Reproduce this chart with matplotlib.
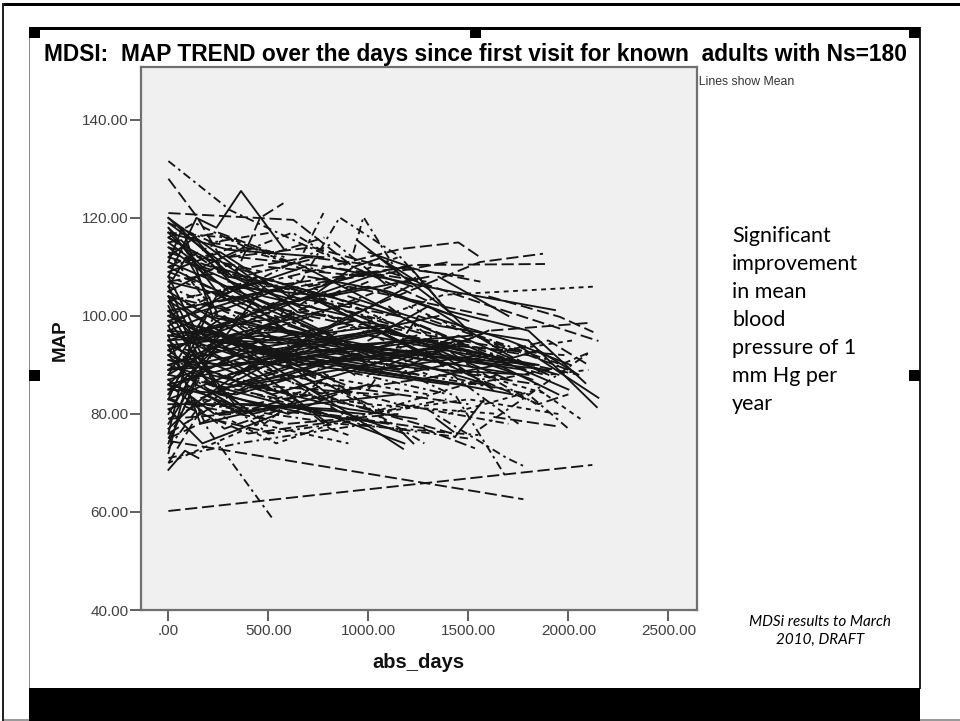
import matplotlib
matplotlib.use('Agg')
import matplotlib.pyplot as plt
from matplotlib.patches import Rectangle

W, H = 960, 721

title = 'MDSI:  MAP TREND over the days since first visit for known  adults with Ns=180'
side_note = 'Significant\nimprovement\nin mean\nblood\npressure of 1\nmm Hg per\nyear'
foot_note = 'MDSi results to March\n2010, DRAFT'

x_ticks = [0, 500, 1000, 1500, 2000, 2500]
x_tick_labels = ['.00', '500.00', '1000.00', '1500.00', '2000.00', '2500.00']
y_ticks = [40, 60, 80, 100, 120, 140]
y_tick_labels = ['40.00', '60.00', '80.00', '100.00', '120.00', '140.00']

# Subject lines, grouped by how they are dashed
solid_days = [
    [0, 83, 150], [0, 430, 875, 1173], [0, 320, 700], [0, 260, 640], [0, 180, 520, 930],
    [0, 300, 775], [0, 500, 1000], [0, 400, 1100], [0, 600, 1300], [0, 450, 1150],
    [0, 700, 1380], [0, 350, 900, 1500], [0, 280, 800], [0, 500, 1100, 1600], [0, 240, 680, 1250],
    [0, 550, 1200], [0, 300, 950], [0, 650, 1420], [0, 200, 760], [0, 330, 720, 1180],
    [0, 160, 580], [0, 420, 1000], [0, 250, 600, 1240], [0, 380, 880], [0, 520, 1060, 1700],
    [0, 300, 810, 1350, 1800], [0, 460, 1020, 1560], [0, 610, 1260, 1850], [0, 150, 500], [0, 210, 480],
    [0, 270, 620], [0, 120, 400], [0, 190, 650], [0, 340, 840], [0, 230, 710, 1150],
    [0, 440, 980], [0, 90, 360], [0, 130, 410, 800], [0, 170, 550], [800, 1375, 1933],
    [1000, 1300, 1700], [1100, 1450, 1900], [900, 1350, 1800], [1200, 1600, 2000], [1300, 1700, 2010],
    [1250, 1650, 1950], [1400, 1800, 2085], [1750, 1900, 2150], [1800, 2142], [1433, 1575],
    [1340, 1425], [1158, 1225], [1050, 1300, 1620], [700, 1150, 1600], [500, 900, 1350],
    [1000, 1208, 1375, 1500], [650, 925, 1058, 1308], [942, 1175, 1400], [0, 140, 240, 363, 575], [1350, 1700],
    [0, 310, 640], [0, 230, 450], [0, 100, 300], [0, 70, 220], [0, 360, 760],
    [0, 280, 590], [0, 400, 700, 1300], [0, 150, 430], [0, 480, 900], [0, 220, 520],
    [0, 300, 680], [0, 600, 1000], [0, 110, 330], [0, 260, 480], [0, 520, 1180],
    [1500, 1780, 1950], [1600, 1850, 2050], [300, 800, 1450], [200, 750, 1300], [400, 1000, 1650],
    [0, 200, 460], [0, 130, 300], [0, 170, 380], [0, 260, 600], [0, 90, 240],
    [0, 350, 720], [0, 240, 540], [0, 410, 820], [0, 320, 660], [0, 560, 1040],
    [0, 210, 610], [0, 470, 980], [0, 140, 360], [0, 380, 930], [0, 620, 1280],
    [0, 290, 700], [0, 500, 1120], [0, 180, 420], [0, 340, 760], [0, 430, 1020],
    [100, 600, 1250], [250, 900, 1520], [150, 700, 1400], [350, 1050, 1700], [450, 1100, 1780],
    [550, 1200, 1850], [650, 1250, 1900], [200, 820, 1480], [300, 950, 1580], [500, 1150, 1620],
    [600, 1050, 1500], [750, 1300, 1760], [850, 1400, 1820], [950, 1450, 1720], [400, 1000, 1450],
    [300, 800, 1300], [500, 1000, 1500], [700, 1100, 1430], [600, 1000, 1220], [400, 900, 1240],
    [250, 700, 1100], [350, 820, 1180], [150, 480, 900], [300, 650, 1000], [200, 600, 840],
]
solid_map = [
    [68.6, 72.5, 71], [104, 92, 80.8, 72.9], [120, 108, 101], [118, 104, 96], [116, 112, 99, 88],
    [117, 113.5, 112], [110, 100, 92], [107, 103, 91], [101, 106, 94], [98, 108, 100],
    [95, 104, 90], [94, 88, 100, 88], [92, 100, 84], [90, 98, 92, 86], [88, 104, 110, 98],
    [86, 92, 106], [84, 96, 103], [100, 90, 94], [102, 86, 80], [99, 82, 81, 74],
    [96, 78, 82], [93, 80, 86], [106, 85, 88, 96], [103, 94, 86], [97, 95, 98, 87],
    [91, 90, 93, 89, 88], [89, 93, 89, 92], [95, 97, 92, 90], [74, 88, 96], [78, 92, 106],
    [80, 98, 104], [76, 96, 100], [83, 100, 96], [85, 84, 90], [87, 80, 82, 84],
    [82, 82, 80], [72, 86, 80], [77, 82, 90, 78], [81, 74, 80], [110, 105.3, 101.2],
    [95, 102, 92], [90, 96, 88], [104, 98, 95], [99, 92, 85], [100, 95, 90],
    [87, 90, 84], [101, 97, 86.3], [94, 90, 83.3], [95, 81.4], [75.3, 82.8],
    [79, 76.4], [76.7, 74], [98, 94, 85], [92, 89, 97], [90, 96, 100],
    [113, 110, 102, 97], [102, 110, 111.8, 105.3], [115.5, 108, 101], [108, 120, 118, 125.5, 113.8], [108, 100],
    [120, 110.8, 101], [119, 112, 106], [115, 112, 105], [111, 118, 100], [100, 92, 88],
    [105, 98, 92], [93, 99, 104, 92], [108, 96, 90], [97, 87, 92], [101, 92, 85],
    [90, 86, 94], [96, 100, 90], [104, 95, 92], [86, 96, 90], [92, 84, 92],
    [93, 90, 88], [90, 93, 88], [95, 94, 90], [84, 92, 89], [91, 96, 91],
    [114, 108, 102], [112, 116, 108], [117, 110, 114], [109, 113, 104], [106, 112, 101],
    [111, 105, 99], [105, 110, 106], [99, 104, 96], [97, 102, 107], [96, 93, 97],
    [95, 88, 84], [94, 96, 91], [92, 86, 81], [90, 94, 99], [89, 91, 95],
    [88, 95, 90], [87, 93, 97], [86, 84, 80], [85, 92, 88], [83, 90, 94],
    [96, 92, 88], [100, 94, 96], [98, 90, 86], [93, 97, 91], [96, 93, 89],
    [92, 95, 90], [90, 92, 89], [94, 90, 86], [88, 94, 91], [93, 88, 92],
    [98, 92, 94], [95, 91, 88], [91, 93, 87], [89, 86, 84], [86, 90, 95],
    [106, 104, 108], [102, 106, 99], [108, 105, 100], [104, 109, 106], [86, 81, 79],
    [84, 80, 78], [82, 81, 76], [110, 104, 100], [107, 103, 108], [85, 80, 84],
]

dash_days = [
    [0, 143, 290], [0, 625, 925, 1300], [330, 458, 575], [600, 1166, 1450, 1558], [900, 1558, 1873],
    [0, 1225, 1883], [1100, 1625, 2150], [1600, 1958, 2125], [0, 2120], [0, 1775],
    [1275, 1533], [1625, 1958], [600, 808, 900], [1000, 1250, 1600, 2000], [0, 300, 800],
    [0, 500, 1200], [0, 700, 1500], [0, 260, 620], [0, 400, 1050], [0, 180, 700],
    [200, 900, 1600], [300, 1000, 1800], [1200, 1700, 2050], [1400, 1900, 2100], [1300, 1608, 2108],
    [0, 340, 900], [0, 560, 1240], [0, 230, 480, 800], [0, 120, 300], [0, 800, 1500],
    [500, 1200, 1850], [700, 1400, 1980], [1500, 1850, 2000], [0, 450, 1100], [0, 650, 1350],
    [0, 250, 580], [0, 360, 760], [0, 150, 470], [0, 520, 1000], [0, 440, 890],
    [100, 600, 1150], [250, 780, 1300], [400, 900, 1420], [0, 320, 690], [0, 210, 530],
    [800, 1300, 1750], [1000, 1450, 1880], [600, 1150, 1500], [0, 280, 640], [0, 400, 930],
    [350, 800, 1290], [500, 1000, 1400], [700, 1180, 1560], [200, 540, 780], [300, 720, 1080],
]
dash_map = [
    [128, 120.2, 110], [121, 119.6, 110, 103], [108, 120, 123], [108, 113.7, 115, 112], [100, 111, 112.7],
    [101, 110.4, 110.6], [109, 101.8, 94.9], [104, 99.8, 96.7], [60.2, 69.6], [74.5, 62.6],
    [77, 73], [79.4, 77.4], [84, 77, 75.7], [85, 100, 95, 89], [116, 108, 104],
    [112, 106, 110], [107, 112, 108], [84, 102, 96], [76, 86, 84], [70, 82, 80],
    [92, 106, 100], [88, 97, 92], [96, 91, 88], [90, 95, 90], [92, 97, 98.6],
    [101, 92, 98], [88, 83, 87], [103, 86, 78, 88], [98, 88, 84], [94, 86, 82],
    [96, 90, 86], [100, 94, 92], [88, 82, 84], [109, 102, 98], [81, 90, 95],
    [115, 117, 112], [113, 108, 112], [118, 112, 109], [104, 99, 107], [100, 108, 103],
    [82, 78, 80], [88, 80, 77], [90, 82, 76], [79, 80, 84], [75, 79, 76],
    [102, 96, 93], [98, 93, 88], [104, 100, 94], [86, 77, 82], [83, 76, 79],
    [112, 110, 107], [110, 108, 111], [106, 110, 107], [115, 113, 116], [112, 114, 110],
]

dashdot_days = [
    [0, 308, 650, 925], [0, 200, 525], [1000, 1440, 1690], [1292, 1692, 1775], [700, 1058, 1358, 1650],
    [1558, 2108], [675, 775], [560, 858], [925, 975, 1160], [860, 1160, 1400],
    [0, 290, 610], [0, 400, 850], [0, 600, 1100], [0, 180, 560], [0, 350, 1000],
    [100, 500, 1000], [250, 800, 1280], [400, 950, 1500], [600, 1150, 1700], [1000, 1550, 1970],
    [1350, 1800, 2000], [1500, 1900, 2108], [0, 750, 1400], [0, 500, 1250], [0, 240, 720],
    [0, 850, 1550], [1100, 1500, 1840], [1200, 1450, 1750], [300, 620, 900], [480, 830, 1100],
    [0, 220, 510], [0, 130, 440], [0, 330, 780], [0, 460, 990], [200, 680, 1180],
    [350, 870, 1390], [0, 270, 690], [0, 540, 1130], [750, 1250, 1690], [900, 1350, 1860],
]
dashdot_map = [
    [131.6, 121.6, 115, 110], [94, 76.7, 58.4], [92, 83.5, 67], [81, 71, 69.4], [88, 80.8, 84.5, 88],
    [77, 92.6], [112.9, 121], [100, 120.2], [112.9, 120.2, 108], [120, 112, 101],
    [117, 116, 111], [114, 109, 99], [104, 94, 78], [73, 83, 78], [71, 74, 78],
    [88, 76, 79], [80, 86, 74], [92, 78, 75], [88, 82, 78], [88, 96, 90],
    [88, 84, 77], [86, 89, 92.6], [99, 90, 84], [106, 97, 108], [75, 94, 100],
    [83, 78, 75.7], [102, 90, 82], [96, 87, 78], [112, 117, 110], [108, 115, 106],
    [119, 115, 117], [116, 119, 113], [110, 114, 109], [103, 107, 101], [94, 101, 97],
    [85, 79, 83], [79, 84, 88], [91, 85, 80], [94, 88, 85], [101, 96, 89],
]

dotted_days = [
    [600, 1375, 2133], [0, 300, 700], [0, 600, 1200], [200, 700, 1300], [1200, 1700, 2020],
    [0, 450, 900], [1000, 1500, 1950], [0, 800, 1300], [300, 1000, 1650], [1400, 1850, 2060],
    [0, 250, 520], [150, 540, 820], [1700, 1900, 2100], [0, 350, 1150], [800, 1300, 1900],
]
dotted_map = [
    [93, 104.3, 106], [110, 116, 109], [103, 108, 97], [97, 88, 84], [102, 93, 95],
    [70, 78, 74], [80, 83, 80], [108, 96, 88], [86, 82, 80], [80, 85, 79],
    [113, 100, 96], [82, 74, 78], [92, 88, 89], [89, 100, 112], [100, 91, 84],
]

line_styles = [
    (solid_days, solid_map, '-'),
    (dash_days, dash_map, (0, (6.5, 2.5))),
    (dashdot_days, dashdot_map, (0, (4.5, 2.2, 1.4, 2.2))),
    (dotted_days, dotted_map, (0, (2.6, 2.4))),
]

plt.rcParams['font.family'] = ['Liberation Sans', 'DejaVu Sans']
fig = plt.figure(figsize=(W / 100, H / 100), dpi=100, facecolor='white')


def box(x, y, w, h, color):
    # pixel box measured from the top left of the slide
    fig.add_artist(Rectangle((x / W, 1 - (y + h) / H), w / W, h / H, transform=fig.transFigure,
                             facecolor=color, edgecolor='none'))


# Slide frame and the selection handles
box(2, 3, 958, 2.5, 'black')
box(2, 3, 2, 718, '#222222')
box(29, 27, 891, 2.5, 'black')
box(29, 27, 1.5, 662, '#8a8a8a')
box(919, 27, 1.5, 662, '#222222')
box(29, 688, 891, 33, 'black')
box(920, 719, 40, 2, '#9a9a9a')
box(4, 719, 25, 2, '#9a9a9a')
for hx, hy in [(29, 27), (470, 27), (909, 27), (29, 370), (909, 370)]:
    box(hx, hy, 11, 11, 'black')

ax = fig.add_axes([141 / W, 1 - 610 / H, 556 / W, 543 / H])
ax.set_facecolor('#f0f0f0')

for days_list, map_list, style in line_styles:
    for days, values in zip(days_list, map_list):
        ax.plot(days, values, color='#151515', lw=1.35, ls=style, dash_capstyle='butt')

ax.set_xlim(-137, 2643)
ax.set_ylim(40, 150.8)
ax.set_xticks(x_ticks, x_tick_labels)
ax.set_yticks(y_ticks, y_tick_labels)
ax.tick_params(axis='both', direction='out', length=8, width=1.2, color='#444444',
               labelcolor='#404040', labelsize=11, pad=2)
ax.tick_params(axis='y', length=8, pad=1)
for spine in ax.spines.values():
    spine.set_color('#707070')
    spine.set_linewidth(1.6)

fig.text(418 / W, 1 - 662 / H, 'abs_days', ha='center', va='center', fontsize=14.5,
         fontweight='bold', color='#111111')
fig.text(60 / W, 1 - 340 / H, 'MAP', ha='center', va='center', rotation=90, fontsize=13.5,
         fontweight='bold', color='#111111')

fig.text(475 / W, 1 - 54 / H, title, ha='center', va='center', fontsize=16.4, color='black',
         fontweight='bold')
fig.text(692 / W, 1 - 82 / H, '  Lines show Mean', ha='left', va='center', fontsize=8.8, color='#333333')
fig.text(732 / W, 1 - 320 / H, side_note, ha='left', va='center', fontsize=15.5, color='black',
         family=['Lato', 'DejaVu Sans'], linespacing=1.5)
fig.text(820 / W, 1 - 631 / H, foot_note, ha='center', va='center', fontsize=11, color='black',
         style='italic', family=['Lato', 'DejaVu Sans'], linespacing=1.4)

fig.savefig('out.png', dpi=100, facecolor='white')
